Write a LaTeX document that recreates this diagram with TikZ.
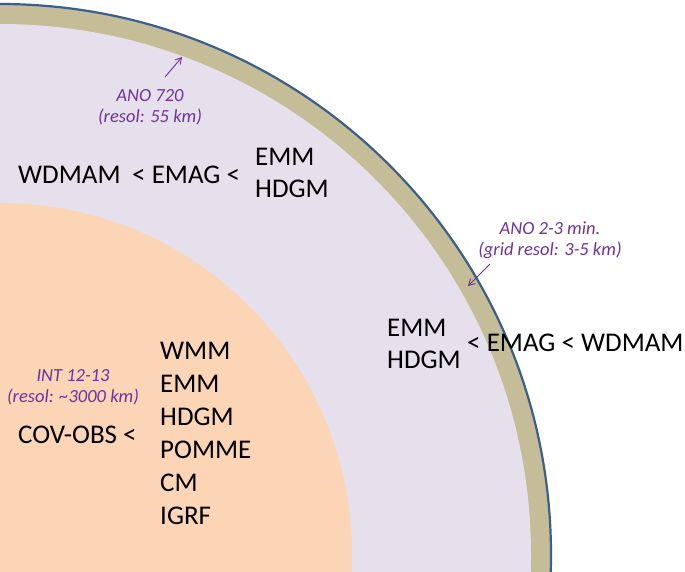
\documentclass[tikz,border=0pt]{standalone}
\usepackage{fontspec}
\setmainfont{Carlito}
\usetikzlibrary{arrows.meta}
\definecolor{tanc}{HTML}{C4BD97}
\definecolor{lav}{HTML}{E6E0EC}
\definecolor{orng}{HTML}{FBD5B5}
\definecolor{edge}{HTML}{3B5E8C}
\definecolor{purp}{HTML}{7030A0}
\begin{document}
\begin{tikzpicture}[x=1pt,y=-1pt,
  lbl/.style={font=\fontsize{27}{29}\selectfont, text=black, inner sep=0pt},
  note/.style={font=\fontsize{18.5}{21}\selectfont\itshape, text=purp, inner sep=0pt, align=center},
  parr/.style={purp, line width=0.9pt, -{Straight Barb[length=6pt,width=7pt]}}]
\useasboundingbox (0,0) rectangle (685,572);
\begin{scope}
\clip (0,0) rectangle (685,572);
\coordinate (c) at (0,555);
\fill[tanc] (c) circle[radius=551];
\fill[lav] (c) circle[radius=531];
\fill[orng] (c) circle[radius=352];
\draw[edge, line width=2.2pt] (c) circle[radius=551];
\end{scope}
% top notes
\node[note] (ano720) at (150,107) {ANO 720\\(resol: 55 km)};
\coordinate (a1s) at (165,77);
\coordinate (a1e) at (182,57);
\draw[parr] (a1s) -- (a1e);
\node[note] (ano23) at (550,240) {ANO 2-3 min.\\(grid resol: 3-5 km)};
\coordinate (a2s) at (490,264);
\coordinate (a2e) at (468,286);
\draw[parr] (a2s) -- (a2e);
\node[note] (int) at (73,387) {INT 12-13\\(resol: \textasciitilde3000 km)};
% upper layer
\node[lbl, anchor=west] (wd1) at (18,175) {WDMAM};
\node[lbl, anchor=west] (em1) at (132,175) {< EMAG <};
\node[lbl, anchor=west] (emm1) at (255,157) {EMM};
\node[lbl, anchor=west] (hd1) at (255,189) {HDGM};
% right
\node[lbl, anchor=west] (emm2) at (387,328) {EMM};
\node[lbl, anchor=west] (hd2) at (387,360) {HDGM};
\node[lbl, anchor=west] (em2) at (467,343) {< EMAG < WDMAM};
% core
\node[lbl, anchor=west] (cov) at (18,435) {COV-OBS <};
\node[lbl, anchor=west] (w1) at (160,351) {WMM};
\node[lbl, anchor=west] (w2) at (160,384) {EMM};
\node[lbl, anchor=west] (w3) at (160,417) {HDGM};
\node[lbl, anchor=west] (w4) at (160,450) {POMME};
\node[lbl, anchor=west] (w5) at (160,483) {CM};
\node[lbl, anchor=west] (w6) at (160,516) {IGRF};
\end{tikzpicture}
\end{document}
